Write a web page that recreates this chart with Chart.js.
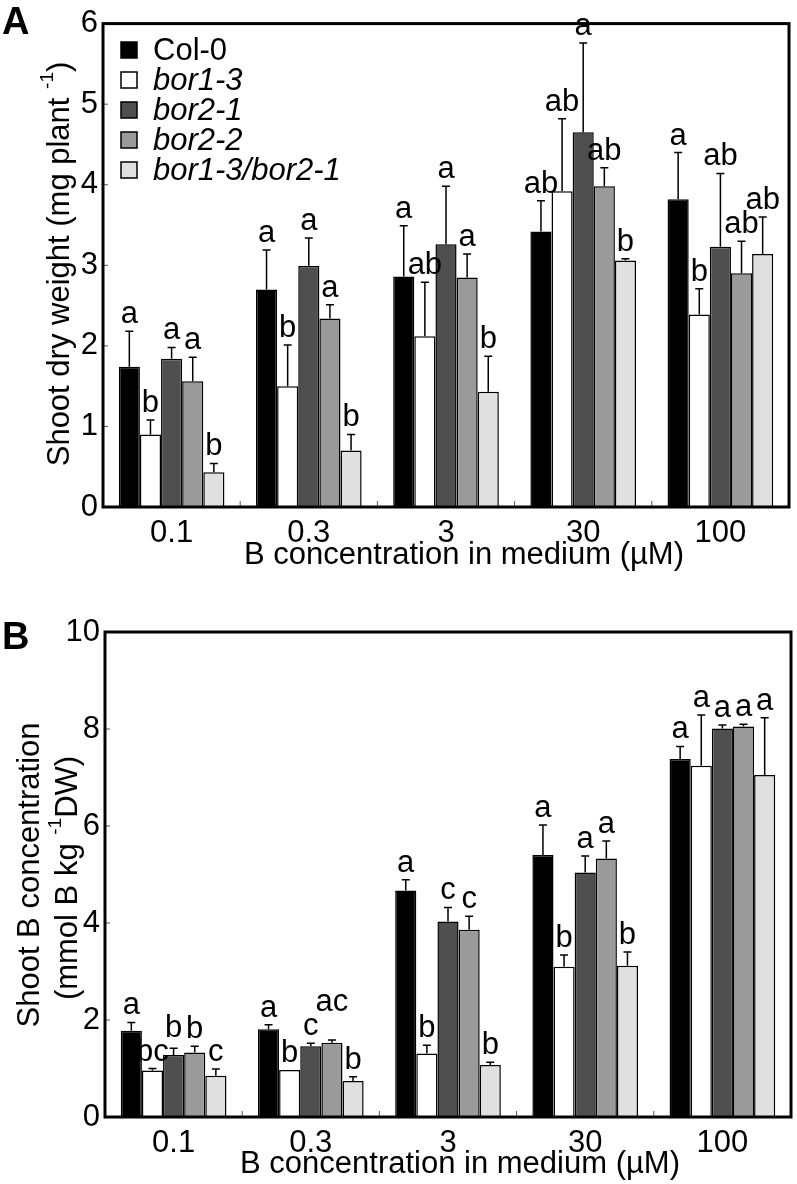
<!DOCTYPE html>
<html>
<head>
<meta charset="utf-8">
<script src="https://cdn.jsdelivr.net/npm/chart.js@4.4.1/dist/chart.umd.min.js"></script>
<style>
  body { margin: 0; background: #fff; }
  #wrapA { position: absolute; left: 0; top: 0; width: 797px; height: 580px; }
  #wrapB { position: absolute; left: 0; top: 590px; width: 797px; height: 594px; }
</style>
</head>
<body>
<div id="wrapA"><canvas id="chartA" width="797" height="580"></canvas></div>
<div id="wrapB"><canvas id="chartB" width="797" height="594"></canvas></div>
<script>
// B concentration in medium (uM)
const concentrations = ['0.1', '0.3', '3', '30', '100'];
const lines = ['Col-0', 'bor1-3', 'bor2-1', 'bor2-2', 'bor1-3/bor2-1'];
const fills = ['#000000', '#ffffff', '#4f4f4f', '#9a9a9a', '#e0e0e0'];

// panel A: shoot dry weight (mg plant-1), mean and SD
const dwCol0 = [1.74, 2.70, 2.86, 3.42, 3.82];
const dwBor13 = [0.90, 1.50, 2.12, 3.92, 2.39];
const dwBor21 = [1.84, 2.99, 3.26, 4.65, 3.23];
const dwBor22 = [1.56, 2.34, 2.85, 3.98, 2.90];
const dwDouble = [0.43, 0.70, 1.43, 3.06, 3.14];
const dwCol0Err = [0.44, 0.49, 0.63, 0.38, 0.58];
const dwBor13Err = [0.18, 0.51, 0.67, 0.90, 0.32];
const dwBor21Err = [0.14, 0.35, 0.72, 1.11, 0.91];
const dwBor22Err = [0.30, 0.17, 0.29, 0.23, 0.40];
const dwDoubleErr = [0.11, 0.20, 0.44, 0.02, 0.46];
const dwCol0Sig = ['a', 'a', 'a', 'ab', 'a'];
const dwBor13Sig = ['b', 'b', 'ab', 'ab', 'b'];
const dwBor21Sig = ['a', 'a', 'a', 'a', 'ab'];
const dwBor22Sig = ['a', 'a', 'a', 'ab', 'ab'];
const dwDoubleSig = ['b', 'b', 'b', 'b', 'ab'];
const dwTicks = [0, 1, 2, 3, 4, 5, 6];

// panel B: shoot B concentration (mmol B kg-1 DW), mean and SD
const bCol0 = [1.78, 1.81, 4.67, 5.40, 7.38];
const bBor13 = [0.96, 0.97, 1.31, 3.10, 7.24];
const bBor21 = [1.28, 1.46, 4.03, 5.04, 8.01];
const bBor22 = [1.33, 1.53, 3.86, 5.33, 8.05];
const bDouble = [0.85, 0.74, 1.07, 3.12, 7.05];
const bCol0Err = [0.17, 0.09, 0.22, 0.62, 0.26];
const bBor13Err = [0.04, 0.00, 0.17, 0.24, 1.05];
const bBor21Err = [0.14, 0.06, 0.29, 0.34, 0.07];
const bBor22Err = [0.13, 0.06, 0.28, 0.36, 0.05];
const bDoubleErr = [0.14, 0.09, 0.06, 0.28, 1.18];
const bCol0Sig = ['a', 'a', 'a', 'a', 'a'];
const bBor13Sig = ['bc', 'b', 'b', 'b', 'a'];
const bBor21Sig = ['b', 'c', 'c', 'a', 'a'];
const bBor22Sig = ['b', 'ac', 'c', 'a', 'a'];
const bDoubleSig = ['c', 'b', 'b', 'b', 'a'];
const bTicks = [0, 2, 4, 6, 8, 10];

const FONT = '"Liberation Sans", Arial, Helvetica, sans-serif';
const SIZE = 31;

function makeDatasets(values, errors, letters) {
  return lines.map((name, i) => ({
    label: name,
    data: values[i],
    errors: errors[i],
    letters: letters[i],
    backgroundColor: fills[i],
    borderColor: '#000',
    borderWidth: 1.5,
    categoryPercentage: 0.77,
    barPercentage: 1.0
  }));
}

// text with superscript pieces, drawn rotated around (cx, cy)
function drawRich(ctx, parts, cx, cy, size) {
  ctx.save();
  ctx.translate(cx, cy);
  ctx.rotate(-Math.PI / 2);
  const widths = parts.map(p => {
    ctx.font = (p.sup ? Math.round(size * 0.62) : size) + 'px ' + FONT;
    return ctx.measureText(p.t).width;
  });
  let x = -widths.reduce((a, b) => a + b, 0) / 2;
  ctx.textBaseline = 'middle';
  ctx.textAlign = 'left';
  parts.forEach((p, i) => {
    ctx.font = (p.sup ? Math.round(size * 0.62) : size) + 'px ' + FONT;
    ctx.fillText(p.t, x, p.sup ? -size * 0.38 : 0);
    x += widths[i];
  });
  ctx.restore();
}

const figurePlugin = {
  id: 'figure',
  afterDatasetsDraw(chart) {
    const ctx = chart.ctx;
    const ys = chart.scales.y;
    const n = chart.data.datasets.length;
    ctx.save();
    ctx.font = SIZE + 'px ' + FONT;
    for (let i = 0; i < concentrations.length; i++) {
      let prev = null;
      for (let di = 0; di < n; di++) {
        const ds = chart.data.datasets[di];
        const bar = chart.getDatasetMeta(di).data[i];
        const top = ys.getPixelForValue(ds.data[i] + ds.errors[i]);
        ctx.strokeStyle = '#000';
        ctx.lineWidth = 1.5;
        if (ds.errors[i] > 0) {
          ctx.beginPath();
          ctx.moveTo(bar.x, bar.y);
          ctx.lineTo(bar.x, top);
          ctx.moveTo(bar.x - 4, top);
          ctx.lineTo(bar.x + 4, top);
          ctx.stroke();
        }
        // significance letter, nudged up when it would hit the previous one
        const w = ctx.measureText(ds.letters[i]).width;
        let base = top - 8;
        const box = { l: bar.x - w / 2, r: bar.x + w / 2 };
        if (prev && box.l < prev.r - 1 && base > prev.base - 23 && base - 23 < prev.base) {
          base = prev.base - 24;
        }
        ctx.fillStyle = '#000';
        ctx.textAlign = 'center';
        ctx.textBaseline = 'alphabetic';
        ctx.fillText(ds.letters[i], bar.x, base);
        prev = { r: box.r, base: base };
      }
    }
    ctx.restore();
  },
  afterDraw(chart, args, opts) {
    const ctx = chart.ctx;
    const area = chart.chartArea;
    const xs = chart.scales.x;
    const ys = chart.scales.y;
    ctx.save();
    // small inward ticks
    ctx.strokeStyle = '#555';
    ctx.lineWidth = 1;
    ctx.beginPath();
    for (let i = 0; i < concentrations.length - 1; i++) {
      const bx = (xs.getPixelForValue(i) + xs.getPixelForValue(i + 1)) / 2;
      ctx.moveTo(bx, area.bottom);
      ctx.lineTo(bx, area.bottom - 6);
    }
    opts.ticks.forEach(t => {
      const py = ys.getPixelForValue(t);
      ctx.moveTo(area.left, py);
      ctx.lineTo(area.left + 5, py);
    });
    ctx.stroke();
    // frame
    ctx.strokeStyle = '#000';
    ctx.lineWidth = 3;
    ctx.strokeRect(area.left, area.top, area.right - area.left, area.bottom - area.top);
    // axis titles
    ctx.fillStyle = '#000';
    ctx.font = SIZE + 'px ' + FONT;
    ctx.textAlign = 'center';
    ctx.textBaseline = 'alphabetic';
    ctx.fillText('B concentration in medium (\u00b5M)', opts.xTitleX, opts.xTitleY);
    opts.yTitle.forEach(row => drawRich(ctx, row.parts, row.x, row.y, SIZE));
    // panel letter
    ctx.font = 'bold 38px ' + FONT;
    ctx.textAlign = 'left';
    ctx.fillText(opts.panel, 2, opts.panelY);
    // legend
    if (opts.legend) {
      chart.data.datasets.forEach((ds, i) => {
        const cy = 50 + i * 30;
        ctx.fillStyle = ds.backgroundColor;
        ctx.fillRect(121, cy - 8, 16, 16);
        ctx.strokeStyle = '#000';
        ctx.lineWidth = 1.5;
        ctx.strokeRect(121, cy - 8, 16, 16);
        ctx.fillStyle = '#000';
        ctx.font = (i === 0 ? '' : 'italic ') + SIZE + 'px ' + FONT;
        ctx.textBaseline = 'middle';
        ctx.fillText(ds.label, 153, cy + 1);
      });
    }
    ctx.restore();
  }
};

function makeChart(id, datasets, ticks, yMax, layout, fig) {
  return new Chart(document.getElementById(id), {
    type: 'bar',
    data: { labels: concentrations, datasets: datasets },
    options: {
      responsive: false,
      animation: false,
      layout: { padding: layout.padding },
      plugins: { legend: { display: false }, tooltip: { enabled: false }, figure: fig },
      scales: {
        x: {
          grid: { display: false, drawTicks: false },
          border: { display: false },
          ticks: { color: '#000', font: { family: FONT, size: SIZE }, padding: 8 },
          afterFit: s => { s.height = layout.xHeight; }
        },
        y: {
          min: 0,
          max: yMax,
          afterBuildTicks: s => { s.ticks = ticks.map(v => ({ value: v })); },
          grid: { display: false, drawTicks: false },
          border: { display: false },
          ticks: { color: '#000', font: { family: FONT, size: SIZE }, padding: 5 },
          afterFit: s => { s.width = layout.yWidth; }
        }
      }
    },
    plugins: [figurePlugin]
  });
}

makeChart('chartA',
  makeDatasets(
    [dwCol0, dwBor13, dwBor21, dwBor22, dwDouble],
    [dwCol0Err, dwBor13Err, dwBor21Err, dwBor22Err, dwDoubleErr],
    [dwCol0Sig, dwBor13Sig, dwBor21Sig, dwBor22Sig, dwDoubleSig]),
  dwTicks, 6,
  { padding: { top: 21, right: 8, left: 0, bottom: 0 }, xHeight: 73, yWidth: 103 },
  {
    ticks: dwTicks, panel: 'A', panelY: 34, legend: true,
    xTitleX: 464, xTitleY: 564,
    yTitle: [{ x: 60, y: 264, parts: [{ t: 'Shoot dry weight (mg plant ' }, { t: '-1', sup: true }, { t: ')' }] }]
  });

makeChart('chartB',
  makeDatasets(
    [bCol0, bBor13, bBor21, bBor22, bDouble],
    [bCol0Err, bBor13Err, bBor21Err, bBor22Err, bDoubleErr],
    [bCol0Sig, bBor13Sig, bBor21Sig, bBor22Sig, bDoubleSig]),
  bTicks, 10,
  { padding: { top: 42, right: 6, left: 0, bottom: 0 }, xHeight: 67, yWidth: 105 },
  {
    ticks: bTicks, panel: 'B', panelY: 59, legend: false,
    xTitleX: 460, xTitleY: 583,
    yTitle: [
      { x: 30, y: 285, parts: [{ t: 'Shoot B concentration' }] },
      { x: 68, y: 288, parts: [{ t: '(mmol B kg ' }, { t: '-1', sup: true }, { t: 'DW)' }] }
    ]
  });
</script>
</body>
</html>
